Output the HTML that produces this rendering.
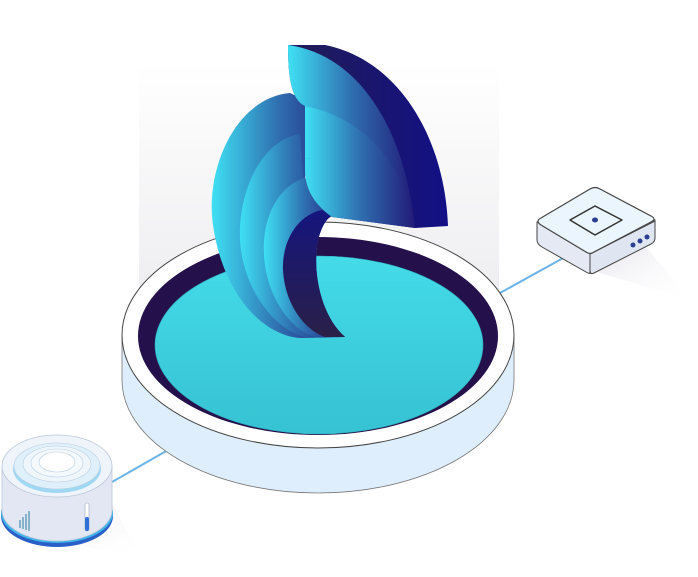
<!DOCTYPE html>
<html><head><meta charset="utf-8"><style>html,body{margin:0;padding:0;background:#fff;width:698px;height:577px;overflow:hidden}</style></head>
<body>
<svg width="698" height="577" viewBox="0 0 698 577" xmlns="http://www.w3.org/2000/svg">
<defs>
<linearGradient id="bg" x1="0" y1="0" x2="0" y2="1"><stop offset="0" stop-color="#fff"/><stop offset="1" stop-color="#e9e9ec"/></linearGradient>
<linearGradient id="cy" x1="0" y1="0" x2="0" y2="1"><stop offset="0" stop-color="#44dbe9"/><stop offset="1" stop-color="#36c2d2"/></linearGradient>
<linearGradient id="lv" x1="0" y1="0" x2="1" y2="0"><stop offset="0" stop-color="#3fe0f4"/><stop offset="0.5" stop-color="#2f6fb0"/><stop offset="1" stop-color="#221a78"/></linearGradient>
<linearGradient id="dk" x1="0" y1="0" x2="0" y2="1"><stop offset="0" stop-color="#15157e"/><stop offset="1" stop-color="#2a2048"/></linearGradient>
<linearGradient id="fd" x1="0" y1="0" x2="1" y2="0"><stop offset="0" stop-color="#221d55"/><stop offset="1" stop-color="#121085"/></linearGradient>
<linearGradient id="sh" x1="0" y1="0" x2="1" y2="1"><stop offset="0" stop-color="#d8d6e2"/><stop offset="1" stop-color="#fff" stop-opacity="0"/></linearGradient>
</defs>
<rect x="139" y="63" width="360" height="300" fill="url(#bg)"/>
<!-- connectors -->
<line x1="112" y1="482" x2="168" y2="450" stroke="#6ab4e8" stroke-width="2"/>
<line x1="500" y1="293" x2="565" y2="257" stroke="#6ab4e8" stroke-width="2"/>
<!-- dish -->
<path d="M122,335 L122,380 A196,113 0 0 0 514,380 L514,335 Z" fill="#dfeefc" stroke="#777" stroke-width="0.8"/>
<ellipse cx="318" cy="335" rx="196" ry="113" fill="#fff" stroke="#444" stroke-width="1"/>
<ellipse cx="318" cy="336" rx="180" ry="99" fill="#24104a"/>
<ellipse cx="319" cy="345" rx="164" ry="89" fill="url(#cy)" stroke="#2fa8b8" stroke-width="0.6"/>
<!-- left leaves -->
<path d="M290,93 C235,98 205,170 213,225 C222,290 260,335 300,338 L345,337 C320,315 312,270 318,240 C322,225 327,218 332,216 L305,200 L305,100 Z" fill="url(#lv)"/>
<path d="M300,134 C262,140 238,190 240,240 C243,290 275,330 305,337 L345,337 C320,315 312,270 318,240 C322,225 327,218 332,216 L305,200 Z" fill="url(#lv)"/>
<path d="M305,178 C280,185 262,215 264,255 C266,295 290,330 315,337 L345,337 C320,315 312,270 318,240 C322,225 327,218 332,216 Z" fill="url(#lv)"/>
<path d="M322,210 C298,215 282,240 283,270 C285,305 305,330 325,337 L345,337 C320,315 312,270 318,240 C322,225 327,218 332,216 Z" fill="url(#dk)"/>
<!-- fan -->
<path d="M288,45 L325,45 C400,60 445,140 448,226 L415,228 L332,217 C315,205 305,190 305,170 L305,106 C292,100 288,80 288,45 Z" fill="url(#fd)"/>
<path d="M288,45 C360,55 405,130 415,228 C390,160 350,120 305,106 C292,100 288,80 288,45 Z" fill="url(#lv)"/>
<path d="M305,106 C365,118 405,165 415,228 C385,185 350,162 305,158 Z" fill="url(#lv)"/>
<path d="M305,158 C360,160 400,195 415,228 L332,217 C315,205 305,190 305,170 Z" fill="url(#lv)"/>
<!-- right box -->
<path d="M590,270 L690,300 L640,240 Z" fill="url(#sh)" opacity="0.8"/>
<path d="M537,222 L537,240 Q537,244 542,247 L586,272 Q590,275 594,272 L651,242 Q655,240 655,236 L655,220 Z" fill="#e4e9f4" stroke="#444" stroke-width="1"/>
<path d="M590,254 L590,274 M655,220 L655,238" stroke="#444" stroke-width="1"/>
<path d="M590,254 L655,221 L655,238 Q655,242 651,244 L594,273 Q590,275 590,270 Z" fill="#dfe6f1" stroke="#444" stroke-width="1"/>
<path d="M541,218 Q535,221 541,225 L586,252 Q590,255 594,252 L651,222 Q657,219 651,216 L600,189 Q595,186 590,189 Z" fill="#eaf5fd" stroke="#444" stroke-width="1.2"/>
<path d="M570,220 L595,206 L622,220 L595,235 Z" fill="none" stroke="#333" stroke-width="1.5" stroke-linejoin="round"/>
<ellipse cx="595" cy="220" rx="3" ry="2.5" fill="#2a3f8f"/>
<circle cx="633" cy="245" r="2.5" fill="#2a3f8f"/><circle cx="640" cy="241" r="2.5" fill="#2a3f8f"/><circle cx="647" cy="237" r="2.5" fill="#2a3f8f"/>
<!-- left cylinder -->
<path d="M40,540 L140,555 L110,500 Z" fill="url(#sh)" opacity="0.8"/>
<ellipse cx="57" cy="516" rx="56" ry="31" fill="#2a5fc8"/>
<ellipse cx="57" cy="513" rx="56" ry="30" fill="#3fb5e8"/>
<path d="M2,466 L2,510 A55,31 0 0 0 112,510 L112,466 Z" fill="#e2e7f3" stroke="#bcc6d8" stroke-width="0.8"/>
<ellipse cx="57" cy="466" rx="55" ry="31" fill="#eef4fa" stroke="#bcc6d8" stroke-width="0.8"/>
<ellipse cx="57" cy="469" rx="44" ry="24" fill="#9fd8f2"/>
<ellipse cx="57" cy="466" rx="43" ry="23" fill="#dff0fb" stroke="#b8cde0" stroke-width="0.6"/>
<ellipse cx="57" cy="464" rx="34" ry="18" fill="#eef6fc" stroke="#b8cde0" stroke-width="0.6"/>
<ellipse cx="57" cy="463" rx="26" ry="14" fill="#f4f9fd" stroke="#b8cde0" stroke-width="0.6"/>
<ellipse cx="57" cy="462" rx="18" ry="10" fill="#fff" stroke="#b8cde0" stroke-width="0.6"/>
<g stroke="#4a8fb0" stroke-width="1.2"><line x1="20" y1="520" x2="20" y2="528"/><line x1="23" y1="517" x2="23" y2="529"/><line x1="26" y1="514" x2="26" y2="530"/><line x1="29" y1="511" x2="29" y2="531"/></g>
<rect x="85" y="503" width="4" height="28" rx="2" fill="#fff" stroke="#9aa8c0" stroke-width="0.6"/>
<rect x="85" y="517" width="4" height="14" rx="2" fill="#2f6fd8"/>
</svg>
</body></html>
